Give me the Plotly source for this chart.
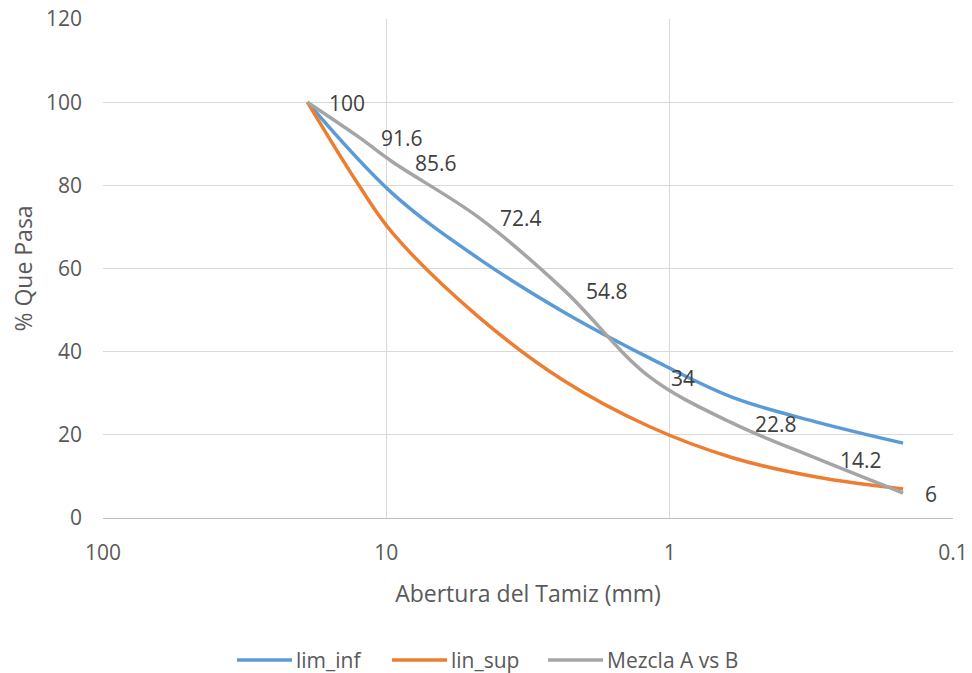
import math
import plotly.graph_objects as go

# Sieve openings (mm) and percent passing
tamiz_mm = [19, 12.5, 9.5, 4.75, 2.36, 1.18, 0.6, 0.3, 0.15]
tamiz_inf_mm = [19, 9.5, 4.75, 2.36, 1.18, 0.6, 0.3, 0.15]
lim_inf = [100, 78, 62.5, 49.5, 38.5, 29, 23, 18]
lin_sup = [100, 80, 68.5, 48.5, 33, 22, 14.5, 9.8, 7]
mezcla = [100, 91.6, 85.6, 72.4, 54.8, 34, 22.8, 14.2, 6]

x_ticks = [100, 10, 1, 0.1]
x_tick_text = ["100", "10", "1", "0.1"]

FONT = "Open Sans"
GRID = "#D9D9D9"
TXT = "#595959"

W, H = 972, 673
ML, MR, MT, MB = 103, 19, 19, 155
PW, PH = W - ML - MR, H - MT - MB

series = [
    ("lim_inf", tamiz_inf_mm, lim_inf, "#5B9BD5"),
    ("lin_sup", tamiz_mm, lin_sup, "#ED7D31"),
    ("Mezcla A vs B", tamiz_mm, mezcla, "#A5A5A5"),
]

fig = go.Figure()
for name, xs, vals, color in series:
    fig.add_trace(go.Scatter(
        x=xs, y=vals, name=name, mode="lines", showlegend=False,
        line=dict(color=color, width=3.5, shape="spline", smoothing=1),
    ))

# Value labels to the right of each blend point
for xv, yv in zip(tamiz_mm, mezcla):
    fig.add_annotation(
        x=math.log10(xv), y=yv, text=f"{yv:g}", showarrow=False,
        xanchor="left", yanchor="middle", xshift=20, yshift=-1,
        font=dict(family=FONT, size=21, color="#404040"),
    )

# Legend row below the axis title: line sample + series name
legend_y_px = 660
legend_x_px = [237, 392, 548]
sample_len = 55
for (name, _, _, color), x0 in zip(series, legend_x_px):
    yp = (H - MB - legend_y_px) / PH
    fig.add_shape(
        type="line", xref="paper", yref="paper",
        x0=(x0 - ML) / PW, x1=(x0 + sample_len - ML) / PW, y0=yp, y1=yp,
        line=dict(color=color, width=3.5), layer="above",
    )
    fig.add_annotation(
        xref="paper", yref="paper", x=(x0 + sample_len + 2 - ML) / PW, y=yp,
        text=name, showarrow=False, xanchor="left", yanchor="middle",
        font=dict(family=FONT, size=21, color=TXT),
    )

fig.update_layout(
    width=W, height=H,
    margin=dict(l=ML, r=MR, t=MT, b=MB, autoexpand=False),
    paper_bgcolor="white", plot_bgcolor="white",
    font=dict(family=FONT, size=21, color=TXT),
    showlegend=False,
)
fig.update_xaxes(
    type="log", range=[math.log10(100), math.log10(0.1)],
    tickvals=x_ticks, ticktext=x_tick_text, automargin=False,
    showgrid=True, gridcolor=GRID, gridwidth=1,
    showline=True, linecolor="#BFBFBF", linewidth=1,
    ticks="", ticklabelstandoff=16,
    tickfont=dict(family=FONT, size=21, color=TXT),
    title=dict(text="Abertura del Tamiz (mm)", standoff=20,
               font=dict(family=FONT, size=23, color=TXT)),
    zeroline=False,
)
fig.update_yaxes(
    range=[0, 120], dtick=20, automargin=False,
    showgrid=True, gridcolor=GRID, gridwidth=1,
    showline=False, ticks="", ticklabelstandoff=20,
    tickfont=dict(family=FONT, size=21, color=TXT),
    title=dict(text="% Que Pasa", standoff=6,
               font=dict(family=FONT, size=23, color=TXT)),
    zeroline=False,
)

fig.write_html("out.html")
